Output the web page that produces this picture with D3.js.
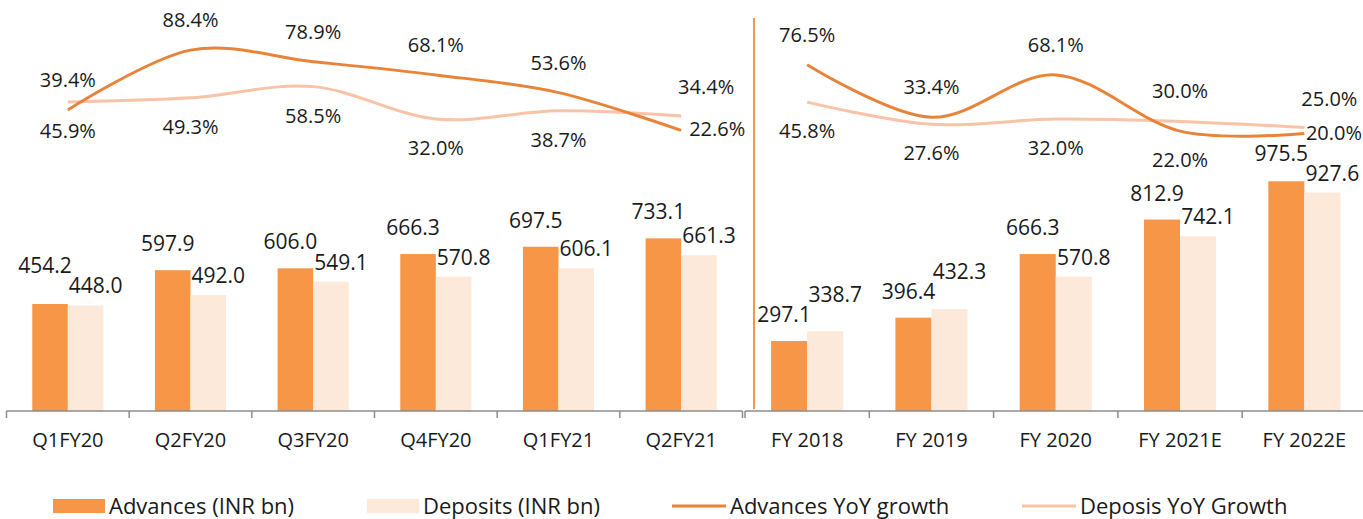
<!DOCTYPE html>
<html>
<head>
<meta charset="utf-8">
<script src="https://cdn.jsdelivr.net/npm/d3@7"></script>
<style>
  body { margin: 0; background: #fff; }
  svg text { font-family: "Open Sans", sans-serif; fill: #1a1a1a; }
</style>
</head>
<body>
<div class="content"></div>
<script>
// quarterly panel
var qCategories = ["Q1FY20", "Q2FY20", "Q3FY20", "Q4FY20", "Q1FY21", "Q2FY21"];
var qAdvances = [454.2, 597.9, 606.0, 666.3, 697.5, 733.1];
var qDeposits = [448.0, 492.0, 549.1, 570.8, 606.1, 661.3];
var qAdvGrowth = [39.4, 88.4, 78.9, 68.1, 53.6, 22.6];
var qDepGrowth = [45.9, 49.3, 58.5, 32.0, 38.7, 34.4];

// yearly panel
var fyCategories = ["FY 2018", "FY 2019", "FY 2020", "FY 2021E", "FY 2022E"];
var fyAdvances = [297.1, 396.4, 666.3, 812.9, 975.5];
var fyDeposits = [338.7, 432.3, 570.8, 742.1, 927.6];
var fyAdvGrowth = [76.5, 33.4, 68.1, 22.0, 20.0];
var fyDepGrowth = [45.8, 27.6, 32.0, 30.0, 25.0];

var legendLabels = ["Advances (INR bn)", "Deposits (INR bn)", "Advances YoY growth", "Deposis YoY Growth"];

var W = 1363, H = 519;
var colAdv = "#f79646", colDep = "#fde9d9";
var colAdvLine = "#e8843a", colDepLine = "#f8c3a7";
var axisY = 411;

var svg = d3.select(".content").append("svg")
  .attr("width", W)
  .attr("height", H);

// shared value scales
var yBar = d3.scaleLinear().domain([0, 1000]).range([axisY, 175.5]);
var yPct = d3.scaleLinear().domain([0, 100]).range([158, 36]);

var fmt = d3.format(".1f");

function drawPanel(cats, adv, dep, advG, depG, range, topSeries) {
  var x = d3.scaleBand().domain(cats).range(range).paddingInner(0.42).paddingOuter(0.21);
  var sub = d3.scaleBand().domain(["adv", "dep"]).range([0, x.bandwidth()]);
  var g = svg.append("g");

  var rows = cats.map(function(c, i) {
    return {cat: c, adv: adv[i], dep: dep[i], advG: advG[i], depG: depG[i], i: i};
  });

  // bars
  g.selectAll("rect.adv")
    .data(rows)
    .enter().append("rect")
      .attr("class", "adv")
      .attr("x", function(d) { return x(d.cat) + sub("adv"); })
      .attr("y", function(d) { return yBar(d.adv); })
      .attr("width", sub.bandwidth())
      .attr("height", function(d) { return axisY - yBar(d.adv); })
      .attr("fill", colAdv);

  g.selectAll("rect.dep")
    .data(rows)
    .enter().append("rect")
      .attr("class", "dep")
      .attr("x", function(d) { return x(d.cat) + sub("dep"); })
      .attr("y", function(d) { return yBar(d.dep); })
      .attr("width", sub.bandwidth())
      .attr("height", function(d) { return axisY - yBar(d.dep); })
      .attr("fill", colDep);

  // bar labels, staggered when they would collide
  rows.forEach(function(d) {
    var ya = yBar(d.adv) - 19;
    var yd = yBar(d.dep) - 12;
    if (Math.abs(ya - yd) < 20) {
      if (d.adv >= d.dep) ya = yd - 20;
      else yd = ya - 20;
    }
    g.append("text")
      .attr("text-anchor", "middle")
      .attr("font-size", 21)
      .attr("x", x(d.cat) + sub("adv") + sub.bandwidth() / 2 - 5)
      .attr("y", ya)
      .text(fmt(d.adv));
    g.append("text")
      .attr("text-anchor", "middle")
      .attr("font-size", 21)
      .attr("x", x(d.cat) + sub("dep") + sub.bandwidth() / 2 + 10)
      .attr("y", yd)
      .text(fmt(d.dep));
  });

  // axis line + boundary ticks
  g.append("line")
    .attr("x1", range[0]).attr("x2", range[1])
    .attr("y1", axisY).attr("y2", axisY)
    .attr("stroke", "#8c8c8c").attr("stroke-width", 1.5);

  var bounds = d3.range(cats.length + 1).map(function(i) { return range[0] + i * x.step(); });
  g.selectAll("line.tick")
    .data(bounds)
    .enter().append("line")
      .attr("class", "tick")
      .attr("x1", function(d) { return d; }).attr("x2", function(d) { return d; })
      .attr("y1", axisY).attr("y2", axisY + 7)
      .attr("stroke", "#8c8c8c").attr("stroke-width", 1.5);

  g.selectAll("text.cat")
    .data(cats)
    .enter().append("text")
      .attr("class", "cat")
      .attr("text-anchor", "middle")
      .attr("font-size", 20)
      .attr("x", function(d) { return x(d) + x.bandwidth() / 2; })
      .attr("y", 447)
      .text(function(d) { return d; });

  // growth lines
  var cx = function(d) { return x(d.cat) + x.bandwidth() / 2; };
  var lineAdv = d3.line().x(cx).y(function(d) { return yPct(d.advG); }).curve(d3.curveCardinal.tension(0));
  var lineDep = d3.line().x(cx).y(function(d) { return yPct(d.depG); }).curve(d3.curveCardinal.tension(0));

  g.append("path").datum(rows)
    .attr("d", lineDep)
    .attr("fill", "none").attr("stroke", colDepLine).attr("stroke-width", 3);
  g.append("path").datum(rows)
    .attr("d", lineAdv)
    .attr("fill", "none").attr("stroke", colAdvLine).attr("stroke-width", 3);

  // growth labels
  var last = cats.length - 1;
  rows.forEach(function(d) {
    ["adv", "dep"].forEach(function(s) {
      var v = s === "adv" ? d.advG : d.depG;
      var px = cx(d), py = yPct(v);
      var onTop = topSeries[d.i] === s;
      var t = g.append("text").attr("font-size", 20).text(fmt(v) + "%");
      if (d.i === last) {
        if (onTop) {
          t.attr("text-anchor", "middle").attr("x", px + 25).attr("y", py - 22);
        } else {
          var w = t.node().getComputedTextLength();
          t.attr("text-anchor", "start").attr("x", Math.min(px + 8, W - w - 1)).attr("y", py + 6);
        }
      } else if (onTop) {
        t.attr("text-anchor", "middle").attr("x", px).attr("y", py - 23);
      } else {
        t.attr("text-anchor", "middle").attr("x", px).attr("y", py + 36);
      }
    });
  });
}

var qRange = [6.5, 742.5];
var fyRange = [745, 1366.5];

drawPanel(qCategories, qAdvances, qDeposits, qAdvGrowth, qDepGrowth, qRange,
  ["adv", "adv", "adv", "adv", "adv", "dep"]);
drawPanel(fyCategories, fyAdvances, fyDeposits, fyAdvGrowth, fyDepGrowth, fyRange,
  ["adv", "adv", "adv", "dep", "dep"]);

// divider between the two panels
svg.append("line")
  .attr("x1", fyRange[0] + 9).attr("x2", fyRange[0] + 9)
  .attr("y1", 18).attr("y2", axisY - 2)
  .attr("stroke", colAdv).attr("stroke-width", 2);

// legend
var legendX = [53, 367, 672, 1022];
var legend = svg.selectAll("g.legend")
  .data(legendLabels)
  .enter().append("g")
    .attr("class", "legend")
    .attr("transform", function(d, i) { return "translate(" + legendX[i] + ",0)"; });

legend.each(function(d, i) {
  var el = d3.select(this);
  if (i < 2) {
    el.append("rect").attr("x", 0).attr("y", 499).attr("width", 52).attr("height", 14)
      .attr("fill", i === 0 ? colAdv : colDep);
  } else {
    el.append("line").attr("x1", 0).attr("x2", 54).attr("y1", 506).attr("y2", 506)
      .attr("stroke", i === 2 ? colAdvLine : colDepLine).attr("stroke-width", 3);
  }
  el.append("text")
    .attr("x", i < 2 ? 56 : 58)
    .attr("y", 514)
    .attr("font-size", 22)
    .text(d);
});
</script>
</body>
</html>
